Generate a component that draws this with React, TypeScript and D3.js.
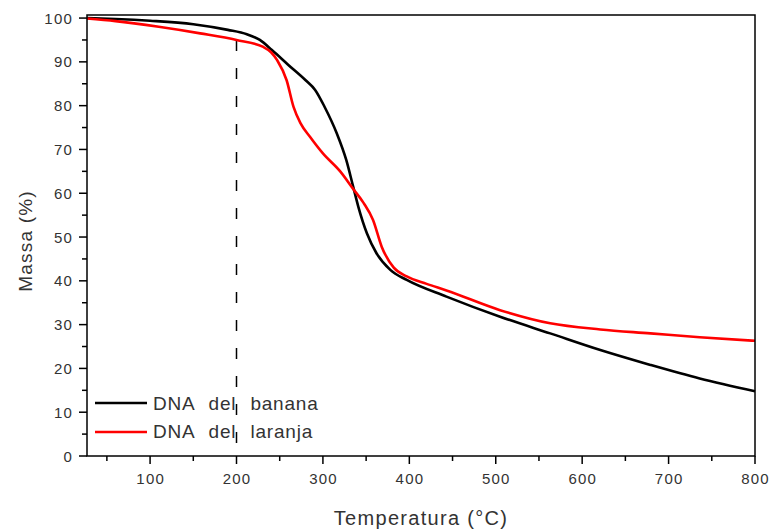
import React from "react";
import * as d3 from "d3";

const bananaT = [27, 60, 100, 150, 190, 212, 227, 241, 260, 280, 291, 302, 316, 327, 335, 341, 351, 362, 378, 397, 443, 505, 563, 621, 679, 736, 800];
const bananaM = [100, 99.8, 99.4, 98.6, 97.3, 96.3, 95.0, 92.7, 89.3, 85.8, 83.6, 79.7, 73.7, 67.6, 61.5, 56.9, 50.8, 46.3, 42.5, 40.2, 36.4, 31.8, 28.0, 24.2, 20.8, 17.7, 14.8];
const laranjaT = [27, 60, 110, 158, 200, 231, 240, 247, 258, 266, 274, 285, 300, 320, 335, 347, 358, 368, 382, 397, 420, 443, 505, 563, 621, 679, 736, 800];
const laranjaM = [99.9, 99.3, 98.0, 96.5, 95.0, 93.4, 92.2, 90.4, 85.8, 79.7, 76.0, 72.9, 69.1, 65.0, 61.0, 57.8, 53.9, 47.8, 43.0, 41.0, 39.3, 37.8, 33.3, 30.3, 28.9, 28.0, 27.1, 26.3];
const xTicks = [100, 200, 300, 400, 500, 600, 700, 800];
const xMinor = [50, 150, 250, 350, 450, 550, 650, 750];
const yTicks = [0, 10, 20, 30, 40, 50, 60, 70, 80, 90, 100];
const yMinor = [5, 15, 25, 35, 45, 55, 65, 75, 85, 95];
const seriesNames = ["DNA del banana", "DNA del laranja"];
const seriesColors = ["#000000", "#ff0000"];
const markerT = 200;

export default function App() {
  const left = 87, right = 755, top = 15, bottom = 456;
  const x = d3.scaleLinear().domain([27, 800]).range([left, right]);
  const y = d3.scaleLinear().domain([0, 100.7]).range([bottom, top]);
  const line = d3.line<[number, number]>().x(d => x(d[0])).y(d => y(d[1])).curve(d3.curveMonotoneX);
  const series = [
    bananaT.map((t, i) => [t, bananaM[i]] as [number, number]),
    laranjaT.map((t, i) => [t, laranjaM[i]] as [number, number]),
  ];
  const font = "Liberation Sans, Arial, sans-serif";
  const textColor = "#333";
  return (
    <svg width={773} height={532} style={{ position: "absolute", left: 0, top: 0, background: "#fff" }}>
      <line x1={x(markerT)} x2={x(markerT)} y1={40} y2={bottom} stroke="#000" strokeWidth={1.5} strokeDasharray="11,17" />
      {series.map((s, i) => (
        <path key={i} d={line(s) || ""} fill="none" stroke={seriesColors[i]} strokeWidth={2.6} />
      ))}
      <rect x={left} y={top} width={right - left} height={bottom - top} fill="none" stroke="#000" strokeWidth={1.5} />
      {xTicks.map(t => (
        <g key={"x" + t}>
          <line x1={x(t)} x2={x(t)} y1={bottom} y2={bottom + 8} stroke="#000" strokeWidth={1.5} />
          <text x={x(t) + 0.6} y={484} textAnchor="middle" fontSize={15} letterSpacing={1.2} fontFamily={font} fill={textColor}>{t}</text>
        </g>
      ))}
      {xMinor.map(t => (
        <line key={"xm" + t} x1={x(t)} x2={x(t)} y1={bottom} y2={bottom + 5} stroke="#000" strokeWidth={1.5} />
      ))}
      {yTicks.map(t => (
        <g key={"y" + t}>
          <line x1={left - 8} x2={left} y1={y(t)} y2={y(t)} stroke="#000" strokeWidth={1.5} />
          <text x={73} y={y(t) + 5.5} textAnchor="end" fontSize={15} letterSpacing={1.2} fontFamily={font} fill={textColor}>{t}</text>
        </g>
      ))}
      {yMinor.map(t => (
        <line key={"ym" + t} x1={left - 5} x2={left} y1={y(t)} y2={y(t)} stroke="#000" strokeWidth={1.5} />
      ))}
      <text x={421} y={525} textAnchor="middle" fontSize={20} letterSpacing={1.3} fontFamily={font} fill={textColor}>Temperatura (°C)</text>
      <text transform={`translate(32,241) rotate(-90)`} textAnchor="middle" fontSize={19} letterSpacing={1.2} fontFamily={font} fill={textColor}>Massa (%)</text>
      {seriesNames.map((n, i) => (
        <g key={n}>
          <line x1={95} x2={147} y1={403 + i * 29} y2={403 + i * 29} stroke={seriesColors[i]} strokeWidth={2.6} />
          <text x={153} y={410 + i * 28} fontSize={19} wordSpacing={8} letterSpacing={0.8} fontFamily={font} fill={textColor}>{n}</text>
        </g>
      ))}
    </svg>
  );
}
